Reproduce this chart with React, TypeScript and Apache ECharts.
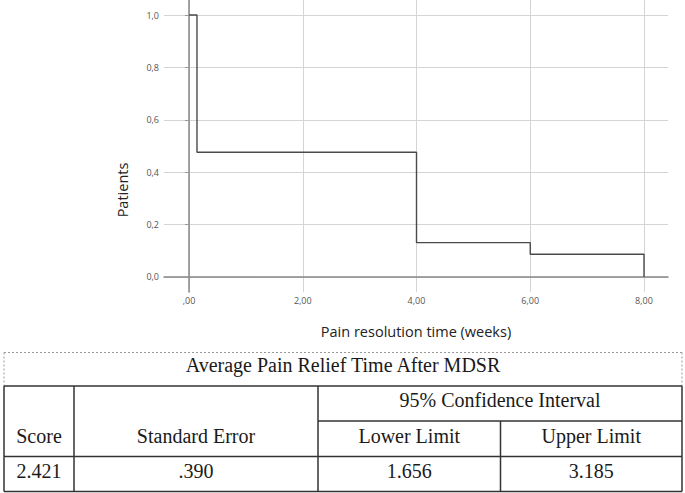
import React, { useEffect, useRef } from "react";
import * as echarts from "echarts";

// Kaplan-Meier style step data
const times = [0, 0.14, 4, 6, 8];
const survival = [1, 0.476, 0.131, 0.087, 0];

const yTickValues = [0, 0.2, 0.4, 0.6, 0.8, 1.0];
const yTickLabels = ["0,0", "0,2", "0,4", "0,6", "0,8", "1,0"];
const xTickValues = [0, 2, 4, 6, 8];
const xTickLabels = [",00", "2,00", "4,00", "6,00", "8,00"];

const yAxisTitle = "Patients";
const xAxisTitle = "Pain resolution time (weeks)";

// table texts
const tableTitle = "Average Pain Relief Time After MDSR";
const ciHeader = "95% Confidence Interval";
const headerLabels = ["Score", "Standard Error", "Lower Limit", "Upper Limit"];
const rowValues = ["2.421", ".390", "1.656", "3.185"];

export default function App() {
  const ref = useRef<HTMLDivElement>(null);

  useEffect(() => {
    if (!ref.current) return;
    const chart = echarts.init(ref.current, undefined, { renderer: "svg" });

    const W = 685;
    const L = 4, R = 682;
    const yTop = 352.5, yThick = 386, yCi = 421, yRow = 456.5, yBot = 491.5;
    const cols = [L, 74, 318, 500.5, R];
    const lineColor = "#333";
    const serif = "'Liberation Serif', 'Times New Roman', serif";
    const sans = "'Open Sans', 'Noto Sans', sans-serif";

    const lines: any[] = [];
    const hline = (x1: number, x2: number, y: number, dashed = false) =>
      lines.push({
        type: "line",
        shape: { x1, y1: y, x2, y2: y },
        style: dashed
          ? { stroke: "#999", lineWidth: 1, lineDash: [2, 2] }
          : { stroke: lineColor, lineWidth: 1.5 },
        silent: true,
      });
    const vline = (x: number, y1: number, y2: number, dashed = false) =>
      lines.push({
        type: "line",
        shape: { x1: x, y1, x2: x, y2 },
        style: dashed
          ? { stroke: "#999", lineWidth: 1, lineDash: [2, 2] }
          : { stroke: lineColor, lineWidth: 1.5 },
        silent: true,
      });

    // dashed title box
    hline(L, R, yTop, true);
    vline(L, yTop, yThick, true);
    vline(R, yTop, yThick, true);
    // solid grid
    hline(L, R, yThick);
    hline(cols[2], R, yCi);
    hline(L, R, yRow);
    hline(L, R, yBot);
    vline(L, yThick, yBot);
    vline(cols[1], yThick, yBot);
    vline(cols[2], yThick, yBot);
    vline(cols[3], yCi, yBot);
    vline(R, yThick, yBot);

    const txt = (text: string, x: number, y: number) => ({
      type: "text",
      silent: true,
      style: {
        text,
        x,
        y,
        textAlign: "center",
        textVerticalAlign: "middle",
        fontFamily: serif,
        fontSize: 20,
        fill: "#1a1a1a",
      },
    });

    const texts: any[] = [];
    texts.push(txt(tableTitle, (L + R) / 2, 365));
    texts.push(txt(ciHeader, (cols[2] + R) / 2, 400));
    headerLabels.forEach((t, i) => {
      texts.push(txt(t, (cols[i] + cols[i + 1]) / 2, 435.5));
    });
    rowValues.forEach((t, i) => {
      texts.push(txt(t, (cols[i] + cols[i + 1]) / 2, 470.5));
    });

    // rotated y-axis title
    texts.push({
      type: "text",
      silent: true,
      x: 122,
      y: 190,
      rotation: Math.PI / 2,
      style: {
        text: yAxisTitle,
        x: 0,
        y: 0,
        textAlign: "center",
        textVerticalAlign: "middle",
        fontFamily: sans,
        fontSize: 14.5,
        fill: "#222",
      },
    });

    chart.setOption({
      animation: false,
      backgroundColor: "#fff",
      grid: { left: 164, right: W - 668, top: 0, bottom: 493 - 292, containLabel: false },
      xAxis: {
        type: "value",
        min: -0.44,
        max: 8.422,
        name: xAxisTitle,
        nameLocation: "middle",
        nameGap: 32,
        nameTextStyle: { fontFamily: sans, fontSize: 14.5, color: "#222" },
        axisLine: { show: true, lineStyle: { color: "#888", width: 1.5 } },
        axisTick: { show: false, customValues: xTickValues },
        axisLabel: {
          customValues: xTickValues,
          formatter: (v: number) => xTickLabels[xTickValues.indexOf(v)] ?? "",
          fontFamily: sans,
          fontSize: 9,
          color: "#555",
          margin: 4,
        },
        splitLine: { show: true, lineStyle: { color: "#d4d4d4", width: 1 } },
      },
      yAxis: {
        type: "value",
        min: -0.0573,
        max: 1.0573,
        axisLine: { show: true, lineStyle: { color: "#888", width: 1.5 } },
        axisTick: { show: true, length: 4, customValues: yTickValues, lineStyle: { color: "#999" } },
        axisLabel: {
          customValues: yTickValues,
          formatter: (v: number) => {
            const i = yTickValues.findIndex((t) => Math.abs(t - v) < 1e-6);
            return i >= 0 ? yTickLabels[i] : "";
          },
          fontFamily: sans,
          fontSize: 9,
          color: "#555",
          margin: 5,
        },
        splitLine: { show: true, lineStyle: { color: "#d4d4d4", width: 1 } },
      },
      series: [
        {
          type: "line",
          step: "end",
          data: times.map((t, i) => [t, survival[i]]),
          symbol: "none",
          lineStyle: { color: "#4a4a4a", width: 1.4 },
          silent: true,
        },
      ],
      graphic: [...lines, ...texts],
    });

    return () => chart.dispose();
  }, []);

  return (
    <div
      ref={ref}
      style={{ position: "absolute", left: 0, top: 0, width: 685, height: 493, background: "#fff" }}
    />
  );
}
